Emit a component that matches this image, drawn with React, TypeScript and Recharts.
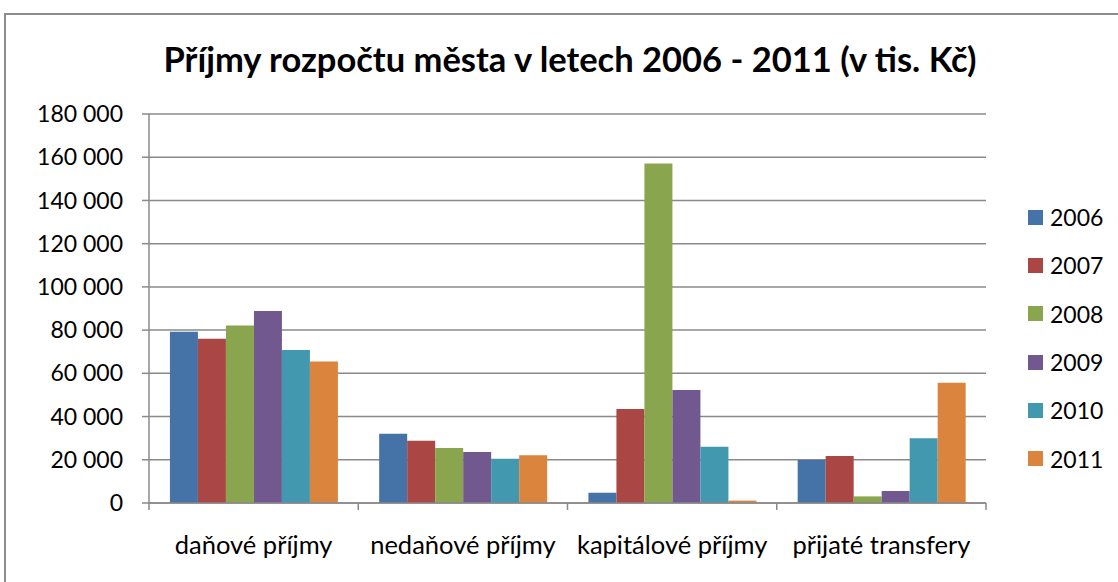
import React from "react";
import { BarChart, Bar, XAxis, YAxis, CartesianGrid } from "recharts";

const categories = ["daňové příjmy", "nedaňové příjmy", "kapitálové příjmy", "přijaté transfery"];
const years = ["2006", "2007", "2008", "2009", "2010", "2011"];
const values2006 = [79200, 32000, 4750, 19850];
const values2007 = [76000, 28750, 43500, 21700];
const values2008 = [82150, 25400, 157050, 3050];
const values2009 = [88900, 23550, 52300, 5550];
const values2010 = [70750, 20450, 26000, 30000];
const values2011 = [65500, 22150, 1100, 55650];
const yTicks = [0, 20000, 40000, 60000, 80000, 100000, 120000, 140000, 160000, 180000];

const seriesValues = [values2006, values2007, values2008, values2009, values2010, values2011];
const colors = ["#4572A7", "#AA4643", "#89A54E", "#71588F", "#4198AF", "#DB843D"];

const data = categories.map((name, i) => {
  const row: Record<string, string | number> = { name };
  years.forEach((y, s) => {
    row[y] = seriesValues[s][i];
  });
  return row;
});

const W = 1118;
const H = 582;
const M = { top: 114, right: 132, bottom: 0, left: 0 };
const Y_AXIS_W = 149;
const X_AXIS_H = 79;
const PLOT_W = W - M.left - M.right - Y_AXIS_W;
const BAND = PLOT_W / categories.length;
const FONT = "Lato, 'Open Sans', sans-serif";
const AXIS_GRAY = "#8a8a8a";

const fmt = (v: number) => String(v).replace(/\B(?=(\d{3})+(?!\d))/g, " ");

function CategoryTick(props: any) {
  const { x, y, payload, index } = props;
  const last = index === categories.length - 1;
  return (
    <g>
      <line x1={x - BAND / 2} y1={y} x2={x - BAND / 2} y2={y + 7} stroke={AXIS_GRAY} strokeWidth={1.5} />
      {last && (
        <line x1={x + BAND / 2} y1={y} x2={x + BAND / 2} y2={y + 7} stroke={AXIS_GRAY} strokeWidth={1.5} />
      )}
      <text x={x} y={y + 45} textAnchor="middle" dominantBaseline="middle" fontSize={25.5} fontFamily={FONT} fill="#000">
        {payload.value}
      </text>
    </g>
  );
}

export default function App() {
  return (
    <div style={{ position: "absolute", left: 0, top: 0, width: W, height: H, overflow: "hidden", background: "#fff" }}>
      <div
        style={{
          position: "absolute",
          left: 4,
          top: 13,
          width: 1300,
          height: 800,
          border: "2px solid #8c8c8c",
          boxSizing: "border-box",
        }}
      />
      <div
        style={{
          position: "absolute",
          left: 0,
          top: 36,
          width: 1140,
          textAlign: "center",
          fontFamily: FONT,
          fontWeight: 700,
          fontSize: 34.5,
          lineHeight: "46px",
          color: "#000",
        }}
      >
        Příjmy rozpočtu města v letech 2006 - 2011 (v tis. Kč)
      </div>
      <div style={{ position: "absolute", left: 0, top: 0 }}>
        <BarChart width={W} height={H} data={data} margin={M} barCategoryGap="10%" barGap={0}>
          <CartesianGrid vertical={false} stroke={AXIS_GRAY} strokeWidth={1.5} />
          <XAxis
            dataKey="name"
            height={X_AXIS_H}
            interval={0}
            tickLine={false}
            tickSize={0}
            tickMargin={0}
            axisLine={{ stroke: AXIS_GRAY, strokeWidth: 1.5 }}
            tick={<CategoryTick />}
          />
          <YAxis
            width={Y_AXIS_W}
            domain={[0, 180000]}
            ticks={yTicks}
            interval={0}
            tickFormatter={fmt}
            tickSize={7}
            tickMargin={19}
            tickLine={{ stroke: AXIS_GRAY, strokeWidth: 1.5 }}
            axisLine={{ stroke: AXIS_GRAY, strokeWidth: 1.5 }}
            tick={{ fontSize: 23, fontFamily: FONT, fill: "#000" }}
          />
          {years.map((y, s) => (
            <Bar key={y} dataKey={y} fill={colors[s]} isAnimationActive={false} />
          ))}
        </BarChart>
      </div>
      <div style={{ position: "absolute", left: 1028, top: 193, fontFamily: FONT, fontSize: 23, color: "#000" }}>
        {years.map((y, s) => (
          <div key={y} style={{ display: "flex", alignItems: "center", height: 48.3 }}>
            <span style={{ display: "inline-block", width: 15, height: 15, background: colors[s], marginRight: 7 }} />
            <span>{y}</span>
          </div>
        ))}
      </div>
    </div>
  );
}
